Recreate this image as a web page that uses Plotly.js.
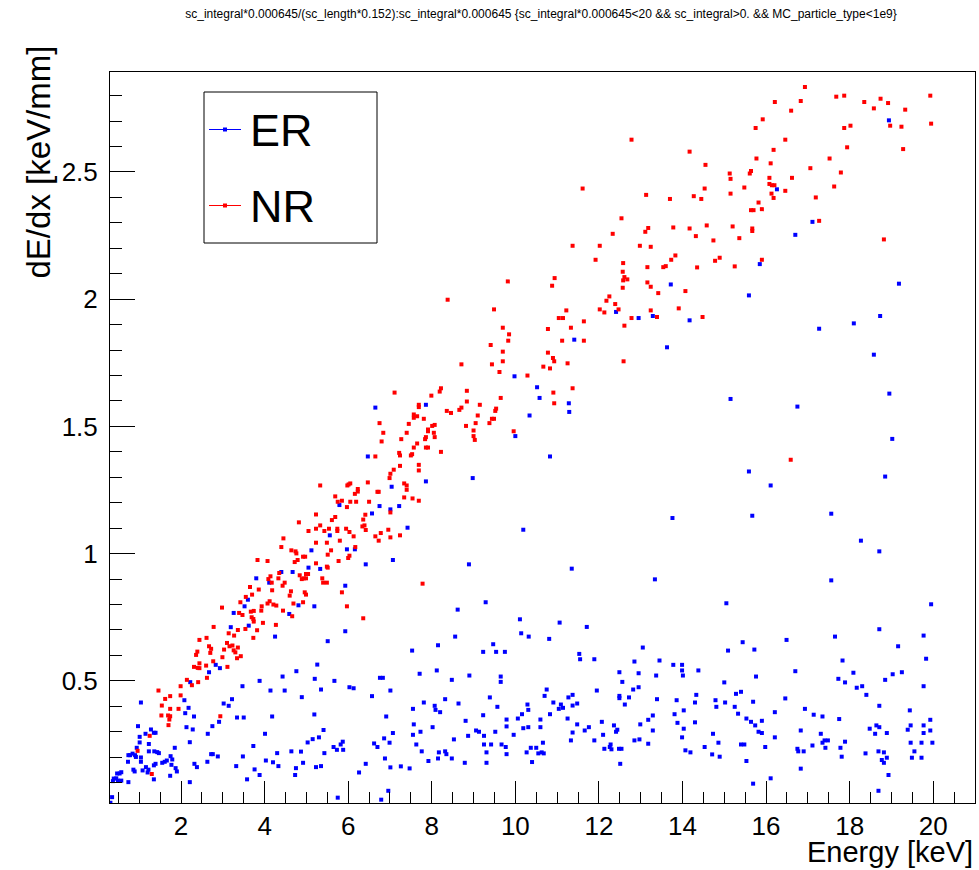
<!DOCTYPE html>
<html>
<head>
<meta charset="utf-8">
<script src="https://cdn.plot.ly/plotly-3.0.1.min.js"></script>
<style>html,body{margin:0;padding:0;background:#fff;}#chart{width:979px;height:870px;}</style>
</head>
<body>
<div id="chart"></div>
<script>
// ER (electron recoils): [energy keV, dE/dx keV/mm]
const erPoints = [
[12.41,1.95],[13.72,2.058],[12.95,1.926],[13.29,1.934],
[18.94,2.703],[16.26,2.432],[17.11,2.304],[16.70,2.253],[15.85,2.138],[19.18,2.061],[15.59,2.015],[14.17,1.917],[17.27,1.884],[18.10,1.905],[18.73,1.934],
[6.65,1.574],[6.47,1.382],[5.79,1.191],[6.75,1.187],[6.57,1.158],[5.56,1.072],[5.12,1.013],[5.97,1.017],[6.16,1.017],[6.42,0.958],[5.05,0.945],[5.33,0.94],[4.40,0.928],[4.67,0.928],[3.80,0.903],[4.11,0.886],
[11.41,1.841],[13.63,1.811],[9.98,1.697],[10.52,1.654],[10.58,1.612],[7.86,1.585],[11.28,1.591],[11.29,1.557],[10.34,1.543],[10.00,1.462],[10.83,1.382],[8.98,1.297],[7.86,1.284],[7.04,1.263],[7.22,1.187],[7.01,1.174],[7.42,1.102],[7.07,0.975],[8.89,0.958],[10.19,1.094],[11.35,0.941],[13.34,0.899],[13.76,1.14],
[18.58,1.782],[18.95,1.629],[15.15,1.608],[16.75,1.578],[19.02,1.451],[15.59,1.323],[18.85,1.303],[16.11,1.268],[15.67,1.149],[17.56,1.157],[18.27,1.051],[18.71,1.009],[17.56,0.895],
[5.93,0.874],[3.60,0.819],[3.52,0.793],[5.19,0.793],[4.81,0.797],[3.26,0.767],[4.59,0.763],[4.25,0.674],[3.19,0.711],[3.62,0.717],[5.93,0.695],[5.51,0.656],
[2.83,0.563],[2.93,0.55],[2.67,0.534],[2.22,0.495],
[1.04,0.415],[2.08,0.424],[2.18,0.394],[2.10,0.373],[2.31,0.36],[2.13,0.318],[2.28,0.309],[2.21,0.259],[3.88,0.50],[3.47,0.479],[4.14,0.462],[4.48,0.462],[4.43,0.517],[4.76,0.538],[5.26,0.564],[5.20,0.508],[5.35,0.466],[5.67,0.50],[6.03,0.475],[6.13,0.471],
[4.89,0.436],[5.19,0.368],[4.18,0.36],[3.34,0.356],[3.50,0.356],[3.22,0.428],[3.14,0.402],[3.02,0.411],[2.91,0.339],[2.75,0.322],[2.64,0.292],[4.01,0.292],[3.73,0.244],[5.41,0.307],[5.30,0.278],[5.15,0.271],[5.03,0.258],[5.65,0.24],[5.73,0.229],[5.82,0.25],[5.87,0.261],[5.88,0.229],[5.43,0.216],[4.87,0.222],[4.64,0.223],[4.30,0.216],[4.03,0.187],[4.20,0.18],[4.33,0.165],[5.35,0.165],[5.23,0.161],[4.92,0.178],[4.75,0.157],[4.73,0.13],[3.76,0.152],[3.58,0.113],[3.88,0.13],[3.32,0.165],[3.48,0.203],[2.88,0.203],[2.76,0.212],[2.72,0.212],[2.63,0.182],[2.38,0.161],[2.32,0.174],[2.21,0.102],[6.57,0.44],[6.62,0.254],[6.70,0.24],[6.42,0.174],[6.26,0.14],[5.75,0.041],
[0.97,0.322],[1.01,0.28],[1.01,0.258],[1.23,0.252],[1.28,0.309],[1.35,0.296],[1.39,0.296],[1.15,0.292],[0.94,0.237],[0.74,0.208],[0.78,0.208],[0.84,0.214],[0.90,0.208],[0.92,0.201],[0.73,0.182],[1.04,0.199],[1.04,0.182],[1.23,0.223],[1.36,0.223],[1.43,0.22],[1.47,0.216],[0.86,0.151],[0.89,0.144],[1.08,0.148],[1.16,0.161],[1.20,0.14],[1.22,0.151],[1.35,0.168],[1.39,0.174],[1.55,0.178],[1.61,0.182],[1.66,0.187],[1.75,0.204],[1.79,0.191],[1.85,0.237],[1.77,0.17],[1.87,0.157],[1.90,0.144],[1.35,0.113],[1.74,0.127],[0.74,0.102],[0.57,0.141],[0.53,0.136],[0.47,0.136],[0.45,0.117],[0.39,0.116],[0.37,0.106],[0.49,0.108],[0.57,0.108],[0.35,0.043],[0.31,0.021],
[9.29,0.809],[8.62,0.78],[10.11,0.742],[11.06,0.729],[11.71,0.712],[10.14,0.687],[10.32,0.674],[8.56,0.674],[10.81,0.665],[7.53,0.619],[8.15,0.64],[9.47,0.644],[9.23,0.614],[9.54,0.614],[9.75,0.614],[11.53,0.606],[11.55,0.585],[11.89,0.585],[13.05,0.631],[12.85,0.576],[13.45,0.58],[13.78,0.563],[8.12,0.541],[7.71,0.528],[8.90,0.521],[9.65,0.517],[9.65,0.496],[8.48,0.504],[12.49,0.534],[12.56,0.496],[12.95,0.53],[13.37,0.521],[12.82,0.466],[12.95,0.475],
[7.01,0.462],[6.76,0.512],[6.83,0.512],[6.91,0.36],[6.86,0.274],[6.99,0.257],[7.07,0.295],[6.88,0.195],[7.01,0.16],[6.96,0.068],[6.79,0.033],[7.26,0.164],[7.47,0.156],[7.55,0.39],[7.57,0.329],[7.55,0.288],[7.63,0.25],[7.73,0.30],[7.76,0.223],[7.81,0.415],[7.92,0.185],[8.02,0.318],[8.07,0.402],[8.09,0.386],[8.20,0.377],[8.15,0.195],[8.17,0.219],[8.32,0.428],[8.32,0.223],[8.35,0.212],[8.48,0.195],[8.53,0.27],[8.64,0.411],[8.79,0.178],[8.81,0.343],[8.87,0.284],[9.06,0.305],[9.13,0.30],[9.23,0.365],[9.25,0.284],[9.25,0.25],[9.42,0.25],[9.31,0.219],[9.31,0.178],[9.39,0.435],[9.52,0.30],[9.57,0.398],[9.67,0.25],[9.77,0.24],[9.79,0.212],[9.79,0.348],[9.79,0.321],[9.96,0.288],
[10.06,0.352],[10.16,0.369],[10.19,0.314],[10.31,0.318],[10.29,0.407],[10.31,0.386],[10.27,0.219],[10.37,0.237],[10.50,0.237],[10.40,0.181],[10.55,0.215],[10.63,0.219],[10.68,0.215],[10.60,0.348],[10.60,0.318],[10.66,0.257],[10.70,0.441],[10.75,0.466],[10.83,0.369],[10.91,0.415],[11.04,0.39],[11.09,0.407],[11.14,0.394],[11.25,0.352],[11.27,0.435],[11.37,0.445],[11.33,0.266],[11.37,0.297],[11.37,0.403],[11.48,0.411],[11.48,0.329],[11.66,0.305],[11.76,0.318],[11.89,0.266],[11.95,0.462],
[12.07,0.339],[12.10,0.288],[12.13,0.233],[12.26,0.24],[12.28,0.25],[12.30,0.231],[12.36,0.325],[12.41,0.30],[12.44,0.308],[12.48,0.233],[12.54,0.233],[12.51,0.174],[12.49,0.441],[12.49,0.432],[12.62,0.407],[12.72,0.435],[12.85,0.266],[12.97,0.27],[12.99,0.329],[13.18,0.347],[13.18,0.253],[13.29,0.364],[13.29,0.305],[13.39,0.428],[13.81,0.369],[13.86,0.424],[13.88,0.335],
[15.05,0.805],[19.95,0.801],[18.71,0.703],[19.77,0.678],[17.65,0.674],[16.49,0.661],[15.44,0.652],[19.16,0.636],[15.09,0.619],[15.72,0.623],[13.99,0.563],[13.99,0.541],[14.01,0.521],[14.38,0.541],[19.83,0.587],[17.83,0.58],[18.09,0.532],[16.70,0.538],[17.73,0.508],[17.89,0.494],[15.76,0.517],[15.00,0.494],[19.25,0.534],[19.03,0.526],[18.85,0.504],[18.17,0.473],[18.30,0.479],[18.40,0.445],[19.77,0.479],
[14.33,0.445],[14.30,0.415],[14.03,0.384],[14.03,0.312],[14.30,0.337],[13.99,0.278],[14.07,0.227],[14.19,0.219],[14.53,0.24],[14.71,0.211],[14.89,0.202],[14.73,0.292],[14.86,0.257],[14.79,0.424],[14.81,0.398],[15.02,0.415],[15.25,0.398],[15.28,0.449],[15.40,0.457],[15.33,0.371],[15.40,0.25],[15.48,0.25],[15.53,0.352],[15.53,0.185],[15.64,0.339],[15.69,0.418],[15.69,0.096],[15.74,0.325],[15.82,0.30],[15.90,0.295],[15.90,0.343],[15.98,0.24],[16.11,0.117],[16.21,0.377],[16.21,0.278],[16.46,0.431],
[16.83,0.305],[16.75,0.233],[16.77,0.223],[16.90,0.223],[16.83,0.155],[16.93,0.39],[17.14,0.367],[17.11,0.246],[17.31,0.292],[17.35,0.36],[17.35,0.257],[17.40,0.266],[17.48,0.266],[17.42,0.237],[17.75,0.35],[17.78,0.237],[17.81,0.202],[17.89,0.261],[18.38,0.215],[18.48,0.312],[18.61,0.292],[18.64,0.325],[18.71,0.318],[18.71,0.402],[18.69,0.223],[18.69,0.068],[18.82,0.219],[18.77,0.189],[18.82,0.178],[18.89,0.295],[18.89,0.198],[18.93,0.13],
[19.39,0.308],[19.44,0.384],[19.46,0.325],[19.46,0.257],[19.55,0.223],[19.49,0.198],[19.72,0.257],[19.72,0.198],[19.77,0.325],[19.77,0.295],[19.93,0.347],[19.93,0.305],[19.98,0.257]
];

// NR (nuclear recoils): [energy keV, dE/dx keV/mm]
const nrPoints = [
[12.78,2.627],[11.61,2.435],[13.13,2.41],[13.70,2.394],[12.54,2.318],[13.78,2.282],[13.18,2.28],[13.11,2.265],[12.33,2.257],[11.37,2.21],[12.02,2.21],[12.98,2.21],[13.24,2.206],[13.83,2.172],[13.73,2.155],[11.92,2.155],[12.58,2.142],[13.60,2.13],[13.54,2.126],[13.16,2.126],[12.57,2.108],[12.61,2.087],[12.68,2.078],[12.58,2.074],[10.94,2.083],[9.82,2.07],[10.88,2.053],[13.16,2.066],[13.24,2.049],[12.57,2.045],[13.42,2.024],[12.25,2.011],[12.18,1.994],[12.39,1.981],[8.38,1.998],[9.49,1.96],[11.22,1.956],[12.02,1.96],[12.13,1.948],[12.47,1.96],[13.24,1.956],[13.91,1.964],[11.04,1.926],[11.14,1.926],[11.64,1.913],[12.78,1.926],[13.39,1.93],[12.61,1.896],[9.70,1.888],[10.78,1.883],[11.33,1.888],
[16.93,2.834],[17.68,2.796],[17.87,2.80],[19.93,2.80],[16.21,2.775],[16.83,2.779],[18.35,2.775],[18.74,2.788],[18.92,2.771],[18.58,2.75],[19.33,2.745],[16.60,2.741],[15.92,2.707],[19.95,2.69],[18.97,2.682],[19.24,2.678],[18.02,2.682],[17.87,2.673],[15.75,2.673],[16.46,2.627],[14.17,2.58],[16.18,2.587],[17.94,2.597],[19.28,2.59],[15.77,2.553],[17.52,2.553],[14.55,2.528],[16.11,2.534],[17.06,2.515],[15.13,2.494],[15.64,2.504],[15.61,2.494],[17.79,2.498],[15.15,2.473],[16.08,2.477],[16.62,2.477],[14.53,2.435],[15.48,2.439],[16.08,2.453],[16.14,2.448],[16.20,2.448],[17.63,2.443],[16.46,2.426],[14.27,2.405],[14.45,2.394],[15.15,2.415],[16.13,2.415],[16.18,2.398],[17.19,2.40],[15.82,2.38],[15.64,2.35],[15.70,2.35],[15.90,2.354],[17.27,2.308],[14.17,2.278],[14.58,2.29],[15.20,2.286],[15.67,2.278],[15.67,2.268],[14.32,2.248],[15.36,2.24],[14.74,2.231],[18.82,2.235],[14.89,2.163],[14.78,2.151],[15.90,2.155],[14.35,2.125],[15.25,2.129],[14.07,2.032],[14.48,1.93],
[6.75,1.513],[6.84,1.475],[6.80,1.441],[6.65,1.382],[5.33,1.268],[5.98,1.268],[6.01,1.272],[6.05,1.276],[6.47,1.28],[6.23,1.254],[6.23,1.244],[6.16,1.235],[6.70,1.243],[6.73,1.243],[5.69,1.225],[5.75,1.204],[5.85,1.208],[6.05,1.204],[6.19,1.204],[6.50,1.204],[5.97,1.183],[6.41,1.153],[5.23,1.154],[4.82,1.123],[5.61,1.132],[5.69,1.144],[6.36,1.134],[6.34,1.107],[6.39,1.111],[6.42,1.093],[5.33,1.111],[5.23,1.098],[5.05,1.089],[5.43,1.089],[5.54,1.098],[5.74,1.098],[5.74,1.089],[5.95,1.098],[6.03,1.085],[6.13,1.068],[6.65,1.068],[6.78,1.081],[6.73,1.051],[4.45,1.06],[5.23,1.043],[5.49,1.043],[5.80,1.051],[4.40,1.026],[4.64,1.013],[4.74,1.009],[4.76,1.001],[5.59,1.013],[5.51,0.996],[6.17,1.026],[6.03,0.992],[6.00,0.983],[4.92,0.988],[4.97,0.988],[4.79,0.975],[4.72,0.967],[3.83,0.975],[4.07,0.971],[5.77,0.971],[5.23,0.962],[5.49,0.949],[5.51,0.945],[4.35,0.924],[4.99,0.92],[5.04,0.92],[4.14,0.911],[4.84,0.915],[4.33,0.903],[4.89,0.90],[4.94,0.903],[4.99,0.903],[4.09,0.90],[5.38,0.903],[4.17,0.886],[4.48,0.886],[5.40,0.886],[5.49,0.886],
[9.85,1.862],[9.83,1.837],[11.12,1.837],[11.64,1.837],[9.41,1.82],[9.70,1.794],[10.78,1.79],[10.90,1.769],[10.93,1.756],[9.70,1.756],[11.25,1.748],[12.59,1.756],[8.71,1.744],[9.44,1.744],[10.67,1.735],[10.83,1.728],[9.62,1.714],[10.29,1.70],[11.37,1.65],[7.11,1.633],[8.22,1.65],[8.19,1.637],[8.84,1.64],[10.91,1.633],[7.99,1.621],[9.65,1.612],[8.84,1.598],[9.15,1.585],[7.69,1.585],[7.69,1.576],[10.93,1.591],[8.36,1.561],[8.46,1.553],[8.66,1.565],[8.71,1.574],[9.54,1.57],[9.52,1.561],[9.10,1.543],[7.57,1.547],[7.57,1.534],[7.65,1.54],[7.81,1.53],[9.44,1.53],[9.49,1.53],[9.38,1.513],[9.05,1.513],[7.45,1.51],[8.82,1.502],[8.01,1.502],[8.07,1.506],[7.91,1.488],[7.91,1.481],[7.40,1.475],[8.05,1.475],[9.00,1.484],[9.96,1.481],[9.00,1.462],[9.03,1.447],[7.86,1.458],[8.07,1.458],[7.84,1.45],[7.27,1.45],[7.65,1.433],[7.57,1.417],[7.86,1.417],[7.91,1.417],[7.22,1.396],[7.24,1.386],[7.50,1.386],[7.53,1.391],[8.22,1.40],[7.24,1.345],[7.69,1.349],[7.69,1.327],[7.09,1.33],[7.01,1.314],[6.99,1.297],[7.34,1.276],[7.40,1.268],[7.40,1.251],[7.34,1.221],[7.54,1.217],[7.69,1.208],[7.01,1.162],[6.96,1.094],[7.01,1.064],[7.24,1.072],[7.78,0.882],[16.59,1.369],
[3.65,0.869],[4.43,0.874],[3.55,0.83],[3.70,0.839],[3.86,0.859],[4.18,0.856],[4.60,0.835],[4.63,0.852],[4.99,0.839],[4.96,0.848],[5.85,0.848],[3.42,0.809],[4.12,0.813],[3.93,0.793],[4.07,0.804],[4.21,0.80],[4.28,0.796],[4.69,0.804],[4.92,0.809],[5.97,0.793],[2.98,0.788],[3.67,0.772],[3.74,0.775],[3.92,0.776],[4.44,0.776],[3.39,0.767],[3.47,0.759],[3.69,0.75],[3.73,0.743],[3.74,0.733],[3.96,0.728],[4.27,0.72],[4.66,0.754],[2.78,0.712],[3.54,0.704],[3.82,0.699],[3.73,0.669],[3.14,0.687],[3.27,0.678],[3.36,0.70],[6.36,0.746],
[2.44,0.661],[2.61,0.669],[2.67,0.636],[2.72,0.626],[2.70,0.61],[2.39,0.615],[2.36,0.602],[3.10,0.649],[3.16,0.636],[3.23,0.639],[3.26,0.62],[3.30,0.612],[3.36,0.631],[3.03,0.623],[2.99,0.593],[3.34,0.589],[3.43,0.597],[2.77,0.577],[2.44,0.569],[2.40,0.551],[2.31,0.555],[2.60,0.56],[2.44,0.55],[3.11,0.555],[2.62,0.512],[2.41,0.495],[2.14,0.504],[2.26,0.483],
[1.46,0.462],[1.99,0.479],[1.99,0.443],[1.62,0.429],[1.74,0.44],[1.54,0.403],[1.74,0.39],[1.94,0.39],[1.53,0.364],[1.69,0.364],[1.74,0.361],[1.72,0.348],[1.70,0.326],[2.94,0.361],[1.25,0.284],[0.96,0.225],[1.30,0.134]
];

const titleText = "sc_integral*0.000645/(sc_length*0.152):sc_integral*0.000645 {sc_integral*0.000645&lt;20 &amp;&amp; sc_integral&gt;0. &amp;&amp; MC_particle_type&lt;1e9}";
const xTitle = "Energy [keV]";
const yTitle = "dE/dx [keV/mm]";
const seriesNames = ["ER", "NR"];

const FONT = "Liberation Sans, Arial, Helvetica, sans-serif";
const W = 979, H = 870, L = 110, R = 4, T = 72, B = 67;
const pw = W - L - R, ph = H - T - B;
const px2x = p => (p - L) / pw;
const py2y = p => (H - B - p) / ph;

const traces = [
  {x: erPoints.map(p => p[0]), y: erPoints.map(p => p[1]), name: seriesNames[0], type: "scatter", mode: "markers",
   marker: {symbol: "square", size: 4, color: "#0000ff", line: {width: 0}}},
  {x: nrPoints.map(p => p[0]), y: nrPoints.map(p => p[1]), name: seriesNames[1], type: "scatter", mode: "markers",
   marker: {symbol: "square", size: 4, color: "#ff0000", line: {width: 0}}}
];

function legendItem(yPix, color, label) {
  const yc = py2y(yPix);
  return {
    shapes: [
      {type: "line", xref: "paper", yref: "paper", x0: px2x(209), x1: px2x(241), y0: yc, y1: yc, line: {color: color, width: 1}},
      {type: "rect", xref: "paper", yref: "paper", x0: px2x(223), x1: px2x(227), y0: py2y(yPix + 2), y1: py2y(yPix - 2), line: {width: 0}, fillcolor: color}
    ],
    ann: {text: label, xref: "paper", yref: "paper", x: px2x(248), y: py2y(yPix + 1), xanchor: "left", yanchor: "middle", showarrow: false,
          font: {family: FONT, size: 45, color: "#000"}}
  };
}
const li1 = legendItem(129.5, "#0000ff", seriesNames[0]);
const li2 = legendItem(205.5, "#ff0000", seriesNames[1]);

const axisCommon = {
  showgrid: false, zeroline: false, showline: true, linecolor: "#000", linewidth: 1, mirror: true,
  ticks: "inside", tickcolor: "#000", tickwidth: 1,
  tickfont: {family: FONT, size: 26, color: "#000"}
};

const layout = {
  width: W, height: H, paper_bgcolor: "#fff", plot_bgcolor: "#fff",
  margin: {l: L, r: R, t: T, b: B, pad: 0},
  showlegend: false,
  title: {text: titleText, font: {family: FONT, size: 12, color: "#000"}, xref: "container", yref: "container",
          x: 541 / W, y: 1 - 14 / H, xanchor: "center", yanchor: "middle"},
  xaxis: Object.assign({}, axisCommon, {range: [0.3, 21.0], tickmode: "linear", tick0: 0, dtick: 2, ticklen: 22, ticklabelstandoff: 0,
          minor: {tickmode: "linear", tick0: 0, dtick: 0.5, ticks: "inside", ticklen: 11, tickcolor: "#000", tickwidth: 1, showgrid: false}}),
  yaxis: Object.assign({}, axisCommon, {range: [0.02, 2.893], tickmode: "linear", tick0: 0, dtick: 0.5, ticklen: 25, ticklabelstandoff: 6,
          minor: {tickmode: "linear", tick0: 0, dtick: 0.1, ticks: "inside", ticklen: 12, tickcolor: "#000", tickwidth: 1, showgrid: false}}),
  shapes: [
    {type: "rect", xref: "paper", yref: "paper", x0: px2x(204), x1: px2x(377), y0: py2y(243), y1: py2y(92), line: {color: "#000", width: 1}, fillcolor: "#fff", layer: "above"}
  ].concat(li1.shapes, li2.shapes),
  annotations: [
    li1.ann, li2.ann,
    {text: xTitle, xref: "paper", yref: "paper", x: 1, y: py2y(852), xanchor: "right", yanchor: "middle", showarrow: false,
     font: {family: FONT, size: 29, color: "#000"}},
    {text: yTitle, xref: "paper", yref: "paper", x: px2x(38), y: py2y(44), xanchor: "center", yanchor: "top", textangle: -90, showarrow: false,
     font: {family: FONT, size: 33, color: "#000"}}
  ]
};

Plotly.newPlot("chart", traces, layout, {staticPlot: true, displayModeBar: false});
</script>
</body>
</html>
